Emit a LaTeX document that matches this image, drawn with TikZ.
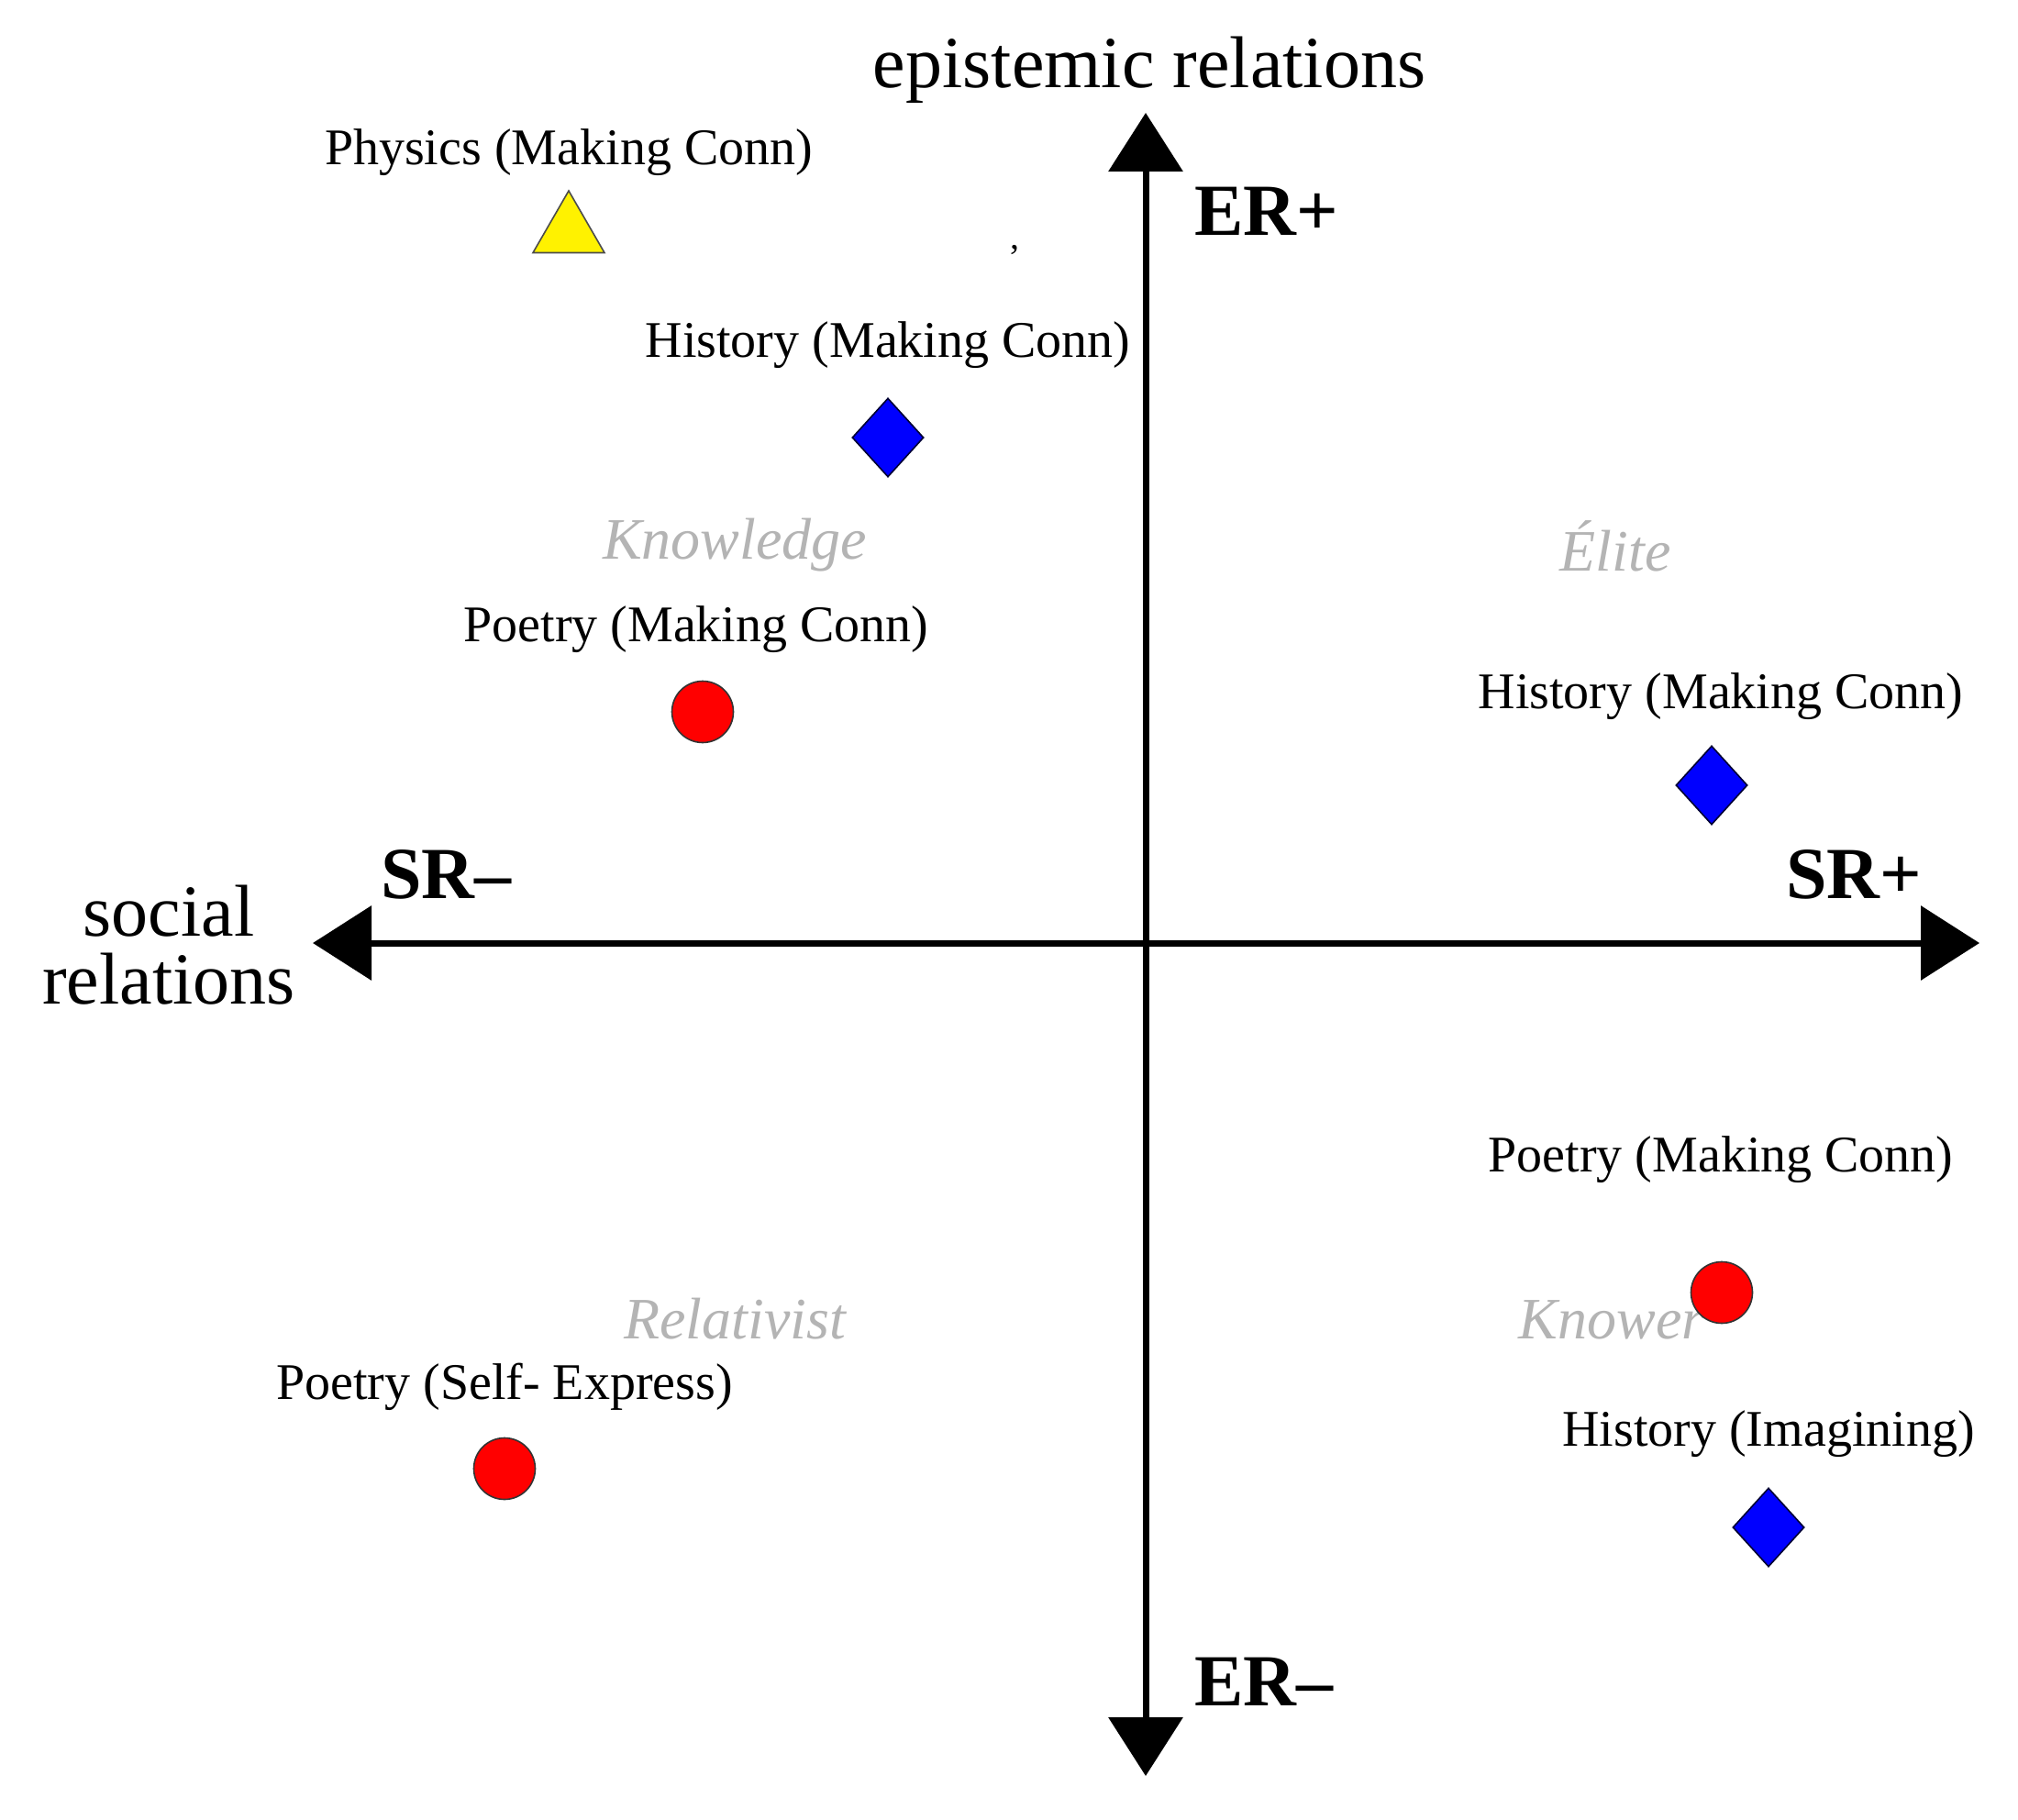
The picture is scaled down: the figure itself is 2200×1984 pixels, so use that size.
\documentclass[tikz,border=0pt]{standalone}
\usepackage{fontspec}
\setmainfont{Liberation Serif}
\usetikzlibrary{arrows.meta,shapes.geometric}
\definecolor{quadgray}{HTML}{B4B4B4}
\begin{document}
\begin{tikzpicture}[x=0.5pt,y=-0.5pt,
  axis/.style={line width=3.5pt,{Triangle[length=32pt,width=40pt]}-{Triangle[length=32pt,width=40pt]}},
  axistitle/.style={inner sep=0,anchor=base,font=\fontsize{40}{40}\selectfont},
  pole/.style={inner sep=0,anchor=base west,font=\fontsize{40}{40}\selectfont\bfseries},
  quad/.style={inner sep=0,anchor=base,text=quadgray,font=\fontsize{32}{32}\selectfont\itshape},
  lab/.style={inner sep=0,anchor=base,font=\fontsize{28}{28}\selectfont},
  dia/.style={diamond,draw=black!80!blue,line width=0.8pt,fill=blue,inner sep=0,minimum width=39pt,minimum height=43pt},
  dot/.style={circle,draw=black!80,line width=0.8pt,fill=red,inner sep=0,minimum size=33.5pt},
  tri/.style={regular polygon,regular polygon sides=3,draw=black!70,line width=0.8pt,fill=yellow,inner sep=0,minimum size=45pt}
]
\useasboundingbox[fill=white] (0,0) rectangle (2200,1984);

% axes
\coordinate (top) at (1249,123);
\coordinate (bot) at (1249,1936);
\coordinate (lft) at (341,1028);
\coordinate (rgt) at (2158,1028);
\draw[axis] (bot) -- (top);
\draw[axis] (lft) -- (rgt);

% axis titles
\node[axistitle] (ertitle) at (1253,96) {epistemic relations};
\node[axistitle] (srtitle1) at (184,1020) {social};
\node[axistitle] (srtitle2) at (184,1094) {relations};

% poles
\node[pole] (erplus) at (1302,257) {ER+};
\node[pole] (erminus) at (1302,1859) {ER\textendash};
\node[pole] (srminus) at (415,979) {SR\textendash};
\node[pole] (srplus) at (1947,979) {SR+};

% quadrant names
\node[quad] (qknow) at (801,610) {Knowledge};
\node[quad] (qelite) at (1761,622) {Élite};
\node[quad] (qrel) at (801,1459) {Relativist};
\node[quad] (qknower) at (1757,1459) {Knower};

% markers
\node[tri] (phys) at (620,253) {};
\node[dia] (histA) at (968,477) {};
\node[dot] (poetA) at (766,776) {};
\node[dia] (histB) at (1866,856) {};
\node[dot] (poetB) at (1877,1409) {};
\node[dia] (histC) at (1928,1665) {};
\node[dot] (poetC) at (550,1601) {};

% labels
\node[lab] (lphys) at (620,180) {Physics (Making Conn)};
\node[lab] (lhistA) at (968,390) {History (Making Conn)};
\node[lab] (lpoetA) at (759,699) {Poetry (Making Conn)};
\node[lab] (lhistB) at (1876,772) {History (Making Conn)};
\node[lab] (lpoetB) at (1876,1277) {Poetry (Making Conn)};
\node[lab] (lhistC) at (1928,1576) {History (Imagining)};
\node[lab] (lpoetC) at (550,1525) {Poetry (Self- Express)};

% stray mark
\node[lab,font=\fontsize{20}{20}\selectfont] (tick) at (1106,272) {,};
\end{tikzpicture}
\end{document}
